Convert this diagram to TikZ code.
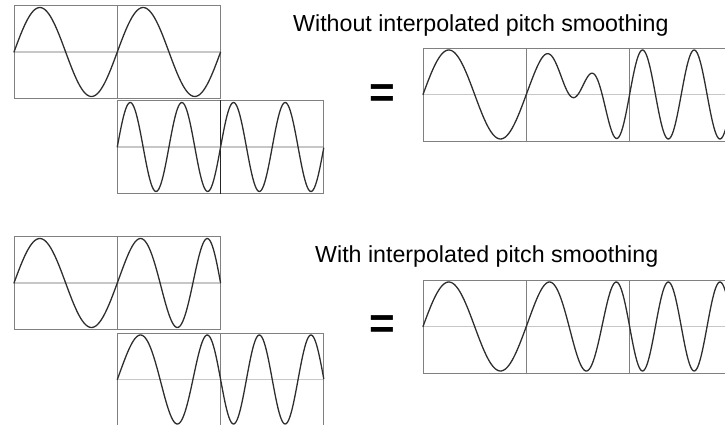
\documentclass[tikz,border=0pt]{standalone}
\usepackage{fontspec}
\setmainfont{Liberation Sans}

\begin{document}
\begin{tikzpicture}[
  x=1pt, y=-1pt,
  frame/.style={draw=black!50, line width=0.9pt},
  zeroline/.style={draw=black!22, line width=1.1pt},
  wave/.style={draw=black!82, line width=1.3pt, line cap=round, smooth},
  title/.style={font=\fontsize{23.2}{27}\selectfont, anchor=base west, inner sep=0pt},
  equal/.style={font=\fontsize{44}{44}\bfseries\selectfont, inner sep=0pt}
]
\useasboundingbox (0,0) rectangle (725,425);

% frames: left x / centre y / number of cells
\foreach \fx/\fy/\fn in {14/52/2, 117.3/147/2, 423/94.5/3,
                         14/283/2, 117.3/379.5/2, 423/326.5/3} {
  \draw[zeroline] (\fx,\fy) -- ({\fx+\fn*103.3},\fy);
  \foreach \k in {1,...,\fn}
    \draw[frame] ({\fx+(\k-1)*103.3},{\fy-46.5}) rectangle ({\fx+\k*103.3},{\fy+46.5});
}
\draw[line width=1.2pt, black!85] (220.6,100.5) -- (220.6,193.5);

% without interpolated pitch smoothing
\node[title] (lbltop) at (293,31.7) {Without interpolated pitch smoothing};
\draw[wave] plot[domain=0:2, samples=120] ({14+103.3*\x}, {52-44.5*sin(360*\x)});
\draw[wave] plot[domain=0:2, samples=200] ({117.3+103.3*\x}, {147-44.5*sin(720*\x)});
\node[equal] (eqtop) at (382.5,96) {=};
\draw[wave] plot[domain=0:1, samples=60] ({423+103.3*\x}, {94.5-44.5*sin(360*\x)});
\draw[wave] plot[domain=0:1, samples=90] ({526.3+103.3*\x},
  {94.5-44.5*((1+cos(180*\x))/2*sin(360*\x)+(1-cos(180*\x))/2*sin(720*\x))});
\draw[wave] plot[domain=0:1, samples=100] ({629.6+103.3*\x}, {94.5-44.5*sin(720*\x)});

% with interpolated pitch smoothing
\node[title] (lblbot) at (315,262) {With interpolated pitch smoothing};
\draw[wave] plot[domain=0:1, samples=60] ({14+103.3*\x}, {283-44.5*sin(360*\x)});
\draw[wave] plot[domain=0:1, samples=90] ({117.3+103.3*\x}, {283-44.5*sin(360*(\x+\x*\x/2))});
\draw[wave] plot[domain=0:1, samples=90] ({117.3+103.3*\x}, {379.5-44.5*sin(360*(\x+\x*\x/2))});
\draw[wave] plot[domain=0:1, samples=100] ({220.6+103.3*\x}, {379.5+44.5*sin(720*\x)});
\node[equal] (eqbot) at (382.5,327.5) {=};
\draw[wave] plot[domain=0:1, samples=60] ({423+103.3*\x}, {326.5-44.5*sin(360*\x)});
\draw[wave] plot[domain=0:1, samples=90] ({526.3+103.3*\x}, {326.5-44.5*sin(360*(\x+\x*\x/2))});
\draw[wave] plot[domain=0:1, samples=100] ({629.6+103.3*\x}, {326.5+44.5*sin(720*\x)});
\end{tikzpicture}
\end{document}
